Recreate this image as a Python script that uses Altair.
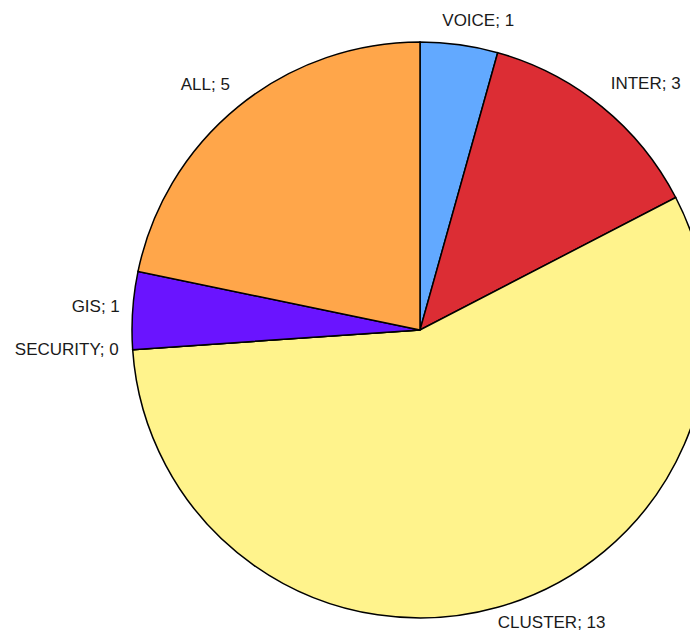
import altair as alt
import pandas as pd

categories = ["VOICE", "INTER", "CLUSTER", "SECURITY", "GIS", "ALL"]
values = [1, 3, 13, 0, 1, 5]
colors = ["#62a9ff", "#dc2d34", "#fff38c", "#999999", "#6a14ff", "#ffa64a"]

df = pd.DataFrame({"category": categories, "value": values,
                   "order": list(range(len(categories)))})
df["label"] = df["category"] + "; " + df["value"].astype(str)

CX, CY, R, RL = 412, 322, 288, 310
FONT = "Liberation Sans"

theta = alt.Theta("value:Q", stack=True)
order = alt.Order("order:Q", sort="ascending")

pie = alt.Chart(df).mark_arc(radius=R, stroke="black", strokeWidth=1.5, clip=True).encode(
    theta=theta,
    order=order,
    x=alt.value(CX),
    y=alt.value(CY),
    color=alt.Color("category:N", scale=alt.Scale(domain=categories, range=colors), legend=None),
)

offsets = {
    "VOICE": (16, -2),
    "INTER": (30, -6),
    "CLUSTER": (48, -6),
    "SECURITY": (-44, -1),
    "GIS": (-15, -2),
    "ALL": (-19, -5),
}

layers = [pie]
for cat in categories:
    dx, dy = offsets[cat]
    t = alt.Chart(df).mark_text(
        radius=RL, font=FONT, fontSize=17, color="#1a1a1a",
        align="center", baseline="middle", dx=dx, dy=dy,
    ).encode(
        theta=theta,
        order=order,
        x=alt.value(CX),
        y=alt.value(CY),
        text="label:N",
        opacity=alt.condition(alt.datum.category == cat, alt.value(1), alt.value(0)),
    )
    layers.append(t)

chart = alt.layer(*layers).properties(
    width=682, height=623,
    autosize=alt.AutoSizeParams(type="none"),
    padding=0,
).configure_view(stroke=None)

chart.save("out.html", embed_options={"renderer": "svg", "actions": False})
